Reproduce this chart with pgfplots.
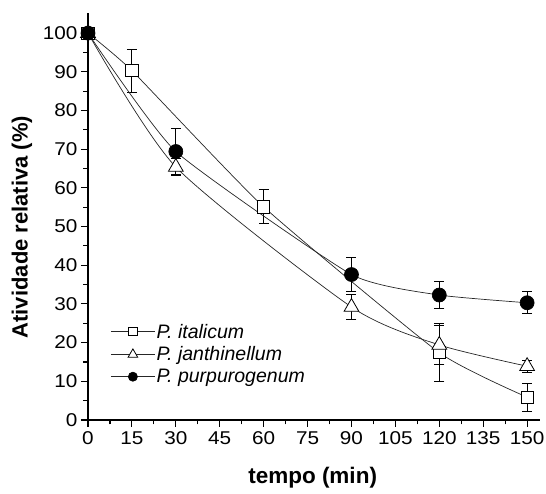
\documentclass[border=0pt]{standalone}
\usepackage{fontspec}
\setmainfont{Liberation Sans}
\newfontfamily\tickfont[FakeStretch=1.12]{Liberation Sans}
\usepackage{pgfplots}
\pgfplotsset{compat=1.18}
\begin{document}
\begin{tikzpicture}
\useasboundingbox (-88pt,-74pt) rectangle (458pt,420pt);
\begin{axis}[
  at={(0,0)}, anchor=south west,
  scale only axis,
  width=452pt, height=407pt,
  xmin=0, xmax=154.4, ymin=0, ymax=105.2,
  axis lines=left,
  axis line style={-, line width=1.3pt},
  xtick={0,15,...,150}, ytick={0,10,...,100},
  minor x tick num=1, minor y tick num=1,
  tick align=outside,
  major tick length=7pt, minor tick length=4.5pt,
  tick style={line width=1.1pt, black},
  /pgf/number format/assume math mode=true,
  ticklabel style={font=\tickfont\fontsize{18.5}{20}\selectfont},
  xticklabel style={yshift=-1pt},
  xlabel={\textbf{tempo (min)}},
  ylabel={\textbf{Atividade relativa (\%)}},
  xlabel style={font=\fontsize{22.5}{24}\selectfont, at={(axis description cs:0.497,-0.1425)}, anchor=center},
  ylabel style={font=\fontsize{22}{24}\selectfont, at={(axis description cs:-0.146,0.474)}, anchor=center},
  clip=false,
  legend style={draw=none, fill=none, at={(0.045,0.245)}, anchor=north west,
    font=\fontsize{19.5}{22}\selectfont\itshape, row sep=4pt, inner sep=2pt,
    nodes={inner sep=1.5pt, xshift=3pt}},
  legend cell align=left,
  legend image code/.code={
    \draw[#1, every mark/.append style={scale=0.65}, mark repeat=2, mark phase=2] plot coordinates {(0pt,0pt) (22pt,0pt) (44pt,0pt)};
  },
  error bars/error bar style={line width=0.9pt, black},
  error bars/error mark options={rotate=90, mark size=5pt, line width=0.9pt, black},
]
% P. italicum
\addplot[black!85, line width=0.7pt, smooth, tension=0.3,
  mark=square*, mark options={fill=white, draw=black, line width=0.8pt, solid}, mark size=6.2pt,
  error bars/.cd, y dir=both, y explicit]
  coordinates {
  (0,100) +- (0,0)
  (15,90.3) +- (0,5.6)
  (60,55.1) +- (0,4.4)
  (120,17.4) +- (0,7.5)
  (150,5.9) +- (0,3.6)
  };
\addlegendentry{P. italicum}
% P. janthinellum
\addplot[black!85, line width=0.7pt, smooth, tension=0.4,
  mark=triangle*, mark options={fill=white, draw=black, line width=0.8pt, solid}, mark size=8.5pt,
  error bars/.cd, y dir=both, y explicit]
  coordinates {
  (0,100) +- (0,0)
  (30,65.4) +- (0,2.3)
  (90,29.2) +- (0,3.2)
  (120,19.4) +- (0,5.0)
  (150,13.9) +- (0,1.6)
  };
\addlegendentry{P. janthinellum}
% P. purpurogenum
\addplot[black!85, line width=0.7pt, smooth, tension=0.3,
  mark=*, mark options={fill=black, draw=black, solid}, mark size=7pt,
  error bars/.cd, y dir=both, y explicit]
  coordinates {
  (0,100) +- (0,0)
  (30,69.4) +- (0,5.9)
  (90,37.6) +- (0,4.4)
  (120,32.3) +- (0,3.5)
  (150,30.3) +- (0,2.8)
  };
\addlegendentry{P. purpurogenum}
\end{axis}
\end{tikzpicture}
\end{document}
